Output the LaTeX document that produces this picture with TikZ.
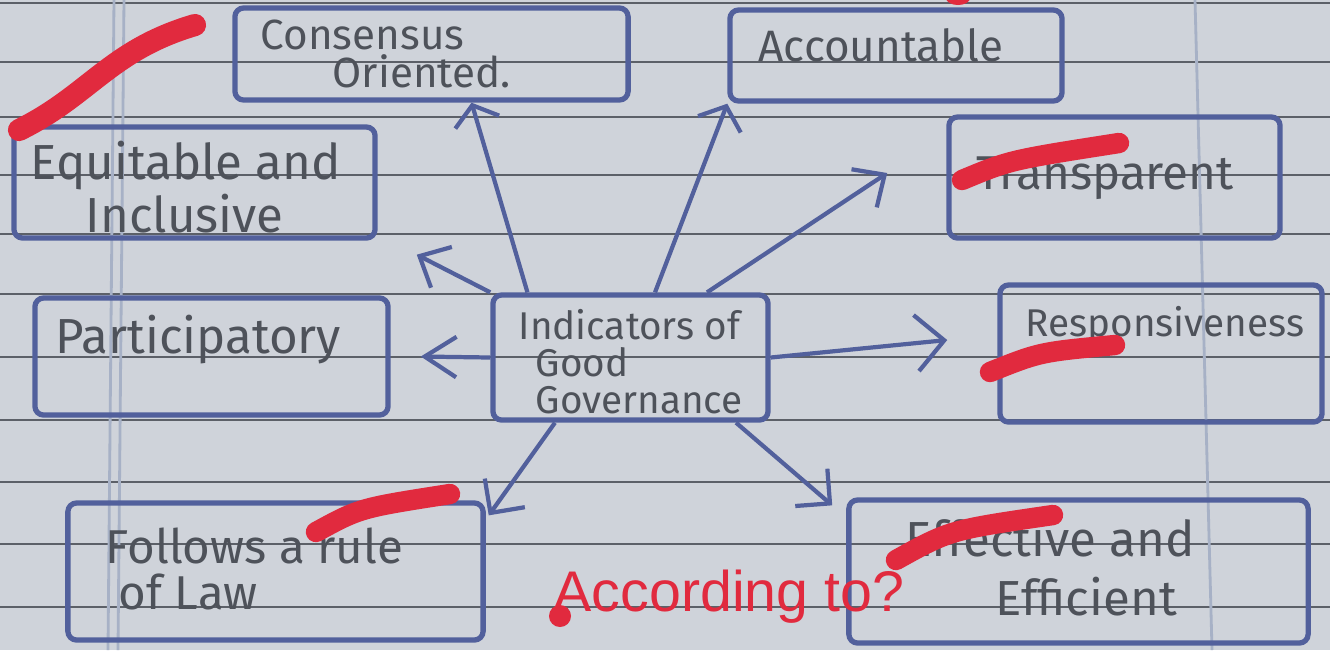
\documentclass[tikz,border=0pt]{standalone}
\usepackage{fontspec}
\setmainfont{Fira Sans}
\newfontfamily\redfont{Liberation Sans}
\usetikzlibrary{arrows.meta}
\definecolor{paper}{HTML}{CFD3DA}
\definecolor{ruleline}{HTML}{5C6068}
\definecolor{marginc}{HTML}{A7B1C6}
\definecolor{ink}{HTML}{52609C}
\definecolor{pencil}{HTML}{4E525A}
\definecolor{marker}{HTML}{E12A3E}
\tikzset{
  box/.style={draw=ink, line width=1.5pt, rounded corners=2.5pt, inner sep=0pt},
  hand/.style={text=pencil, font=\fontsize{13}{15}\selectfont, inner sep=0pt, anchor=west, align=left},
  link/.style 2 args={draw=ink, line width=1.2pt, -{Straight Barb[length=#1,width=#2]}},
  strike/.style={draw=marker, line width=5.8pt, line cap=round},
  rl/.style={draw=ruleline, line width=0.5pt},
  ml/.style={draw=marginc, line width=0.8pt},
}
\begin{document}
\begin{tikzpicture}[x=0.01cm, y=-0.01cm]
  \fill[paper] (0,0) rectangle (1330,650);
  \useasboundingbox (0,0) rectangle (1330,650);
  % ruled lines
  \foreach \yy in {3,62,117,175,234,294,357,420,482,544,607}
    \draw[rl] (0,\yy) -- (1330,\yy);
  % margin lines
  \draw[ml] (114,0) -- (108,650);
  \draw[ml] (124,0) -- (118,650);
  \draw[ml] (1195,0) -- (1212,650);

  % boxes
  \node[box, minimum width=3.93cm, minimum height=0.92cm] (cons) at (431.5,54) {};
  \node[box, minimum width=3.32cm, minimum height=0.91cm] (acc) at (896,55.5) {};
  \node[box, minimum width=3.61cm, minimum height=1.11cm] (equ) at (194.5,182.5) {};
  \node[box, minimum width=3.31cm, minimum height=1.21cm] (tra) at (1114.5,177.5) {};
  \node[box, minimum width=3.53cm, minimum height=1.17cm] (par) at (211.5,356.5) {};
  \node[box, minimum width=2.75cm, minimum height=1.25cm] (ctr) at (630.5,357.5) {};
  \node[box, minimum width=3.22cm, minimum height=1.37cm] (res) at (1161,353.5) {};
  \node[box, minimum width=4.15cm, minimum height=1.37cm] (fol) at (275.5,571.5) {};
  \node[box, minimum width=4.59cm, minimum height=1.43cm] (eff) at (1078.5,571.5) {};

  % texts
  \node[hand, font=\fontsize{12}{11}\selectfont] (t1) at (260,54) {Consensus\\\hspace*{0.72cm}Oriented.};
  \node[hand, font=\fontsize{12.5}{15}\selectfont] (t3) at (758,45) {Accountable};
  \node[hand, font=\fontsize{14}{12.5}\selectfont] (t4) at (30,187) {Equitable and\\\hspace*{0.55cm}Inclusive};
  \node[hand, font=\fontsize{13.5}{15}\selectfont] (t6) at (976,178) {Transparent};
  \node[hand, font=\fontsize{14}{17}\selectfont] (t7) at (55,340) {Participatory};
  \node[hand, font=\fontsize{11}{10.5}\selectfont] (t8) at (518,362) {Indicators of\\\hspace*{0.17cm}Good\\\hspace*{0.17cm}Governance};
  \node[hand, font=\fontsize{11}{14}\selectfont] (t11) at (1025,326) {Responsiveness};
  \node[hand, font=\fontsize{13.5}{13}\selectfont] (t12) at (105,569) {Follows a rule\\\hspace*{0.13cm}of Law};
  \node[hand, font=\fontsize{14}{16.8}\selectfont] (t14) at (905,567) {Effective and\\\hspace*{0.9cm}Efficient};

  % connectors
  \draw[link={5pt}{13pt}] ([xshift=-1.03cm]ctr.north) -- ([xshift=0.4cm]cons.south);
  \draw[link={5.5pt}{13pt}] ([xshift=0.245cm]ctr.north) -- (acc.south west);
  \draw[link={7pt}{13pt}] ([xshift=0.765cm]ctr.north) -- ([xshift=-0.59cm,yshift=0.045cm]tra.west);
  \draw[link={7pt}{13pt}] (ctr.north west) -- ([xshift=0.39cm,yshift=-0.14cm]equ.south east);
  \draw[link={9pt}{11.5pt}] (ctr.west) -- ([xshift=0.3cm]par.east);
  \draw[link={8pt}{16pt}] (ctr.east) -- ([xshift=-0.5cm,yshift=0.135cm]res.west);
  \draw[link={7pt}{14pt}] ([xshift=-0.755cm]ctr.south) -- ([xshift=0.03cm,yshift=-0.15cm]fol.north east);
  \draw[link={7pt}{14pt}] ([xshift=1.055cm]ctr.south) -- ([xshift=-0.14cm,yshift=-0.08cm]eff.north west);

  % red marker
  \draw[strike, line width=6.3pt] (19,130) .. controls (90,95) and (110,50) .. (195,25);
  \draw[strike] (962,180) .. controls (1010,160) .. (1119,143);
  \draw[strike] (990,372) .. controls (1040,352) .. (1115,345);
  \draw[strike] (316,532) .. controls (360,508) .. (450,494);
  \draw[strike] (896,560) .. controls (950,530) .. (1053,515);
  \fill[marker] (958,-2) ellipse [x radius=0.12cm, y radius=0.07cm];
  \fill[marker] (560,616) circle [radius=0.11cm];
  \node[text=marker, font=\redfont\fontsize{16.3}{18}\selectfont, anchor=base west, inner sep=0pt] (q) at (553,611) {According to?};
\end{tikzpicture}
\end{document}
